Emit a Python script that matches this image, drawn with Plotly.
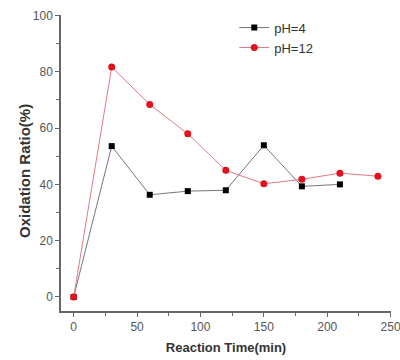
import plotly.graph_objects as go

time_ph4 = [0, 30, 60, 90, 120, 150, 180, 210]
ratio_ph4 = [0, 53.6, 36.3, 37.6, 37.9, 53.9, 39.3, 40.0]
time_ph12 = [0, 30, 60, 90, 120, 150, 180, 210, 240]
ratio_ph12 = [0, 81.7, 68.4, 58.0, 45.0, 40.2, 41.8, 44.0, 42.9]

x_ticks = [0, 50, 100, 150, 200, 250]
y_ticks = [0, 20, 40, 60, 80, 100]

fig = go.Figure()
fig.add_trace(go.Scatter(
    x=time_ph4, y=ratio_ph4, name="pH=4", mode="lines+markers",
    line=dict(color="#777777", width=1),
    marker=dict(symbol="square", size=6, color="black"),
))
fig.add_trace(go.Scatter(
    x=time_ph12, y=ratio_ph12, name="pH=12", mode="lines+markers",
    line=dict(color="#e07a85", width=1),
    marker=dict(symbol="circle", size=7, color="#e3101e"),
))

axis_common = dict(
    showline=True, linecolor="#666666", linewidth=1.5,
    ticks="outside", tickcolor="#666666", ticklen=4, tickwidth=1.2,
    showgrid=False, zeroline=False, automargin=False,
    ticklabeloverflow="allow",
    tickfont=dict(family="Liberation Sans, Arial", size=12, color="#555555"),
    minor=dict(ticks="outside", ticklen=3, tickcolor="#666666", tickwidth=1),
)

fig.update_layout(
    width=400, height=360,
    margin=dict(l=61, r=9, t=15, b=49),
    paper_bgcolor="white", plot_bgcolor="white",
    xaxis=dict(range=[-10, 250.3], tickvals=x_ticks,
               title=dict(text="<b>Reaction Time(min)</b>", standoff=10,
                          font=dict(family="Liberation Sans, Arial", size=13, color="#333333")),
               **axis_common),
    yaxis=dict(range=[-5, 100.2], tickvals=y_ticks, **axis_common),
    legend=dict(x=0.525, y=1.008, xanchor="left", yanchor="top",
                bgcolor="rgba(0,0,0,0)", tracegroupgap=0,
                font=dict(family="Liberation Sans, Arial", size=13, color="#333333"),
                itemwidth=30),
    showlegend=True,
    annotations=[dict(
        text="<b>Oxidation Ratio(%)</b>", textangle=-90,
        xref="paper", yref="paper", x=-0.109, y=0.473,
        xanchor="center", yanchor="middle", showarrow=False,
        font=dict(family="Liberation Sans, Arial", size=15, color="#333333"),
    )],
)
fig.update_xaxes(minor=dict(tickvals=[25, 75, 125, 175, 225]))
fig.update_yaxes(minor=dict(tickvals=[10, 30, 50, 70, 90]))

fig.write_html(
    "out.html",
    config={"displayModeBar": False},
    post_script="document.body.style.margin='0';document.body.style.overflow='hidden';",
)
